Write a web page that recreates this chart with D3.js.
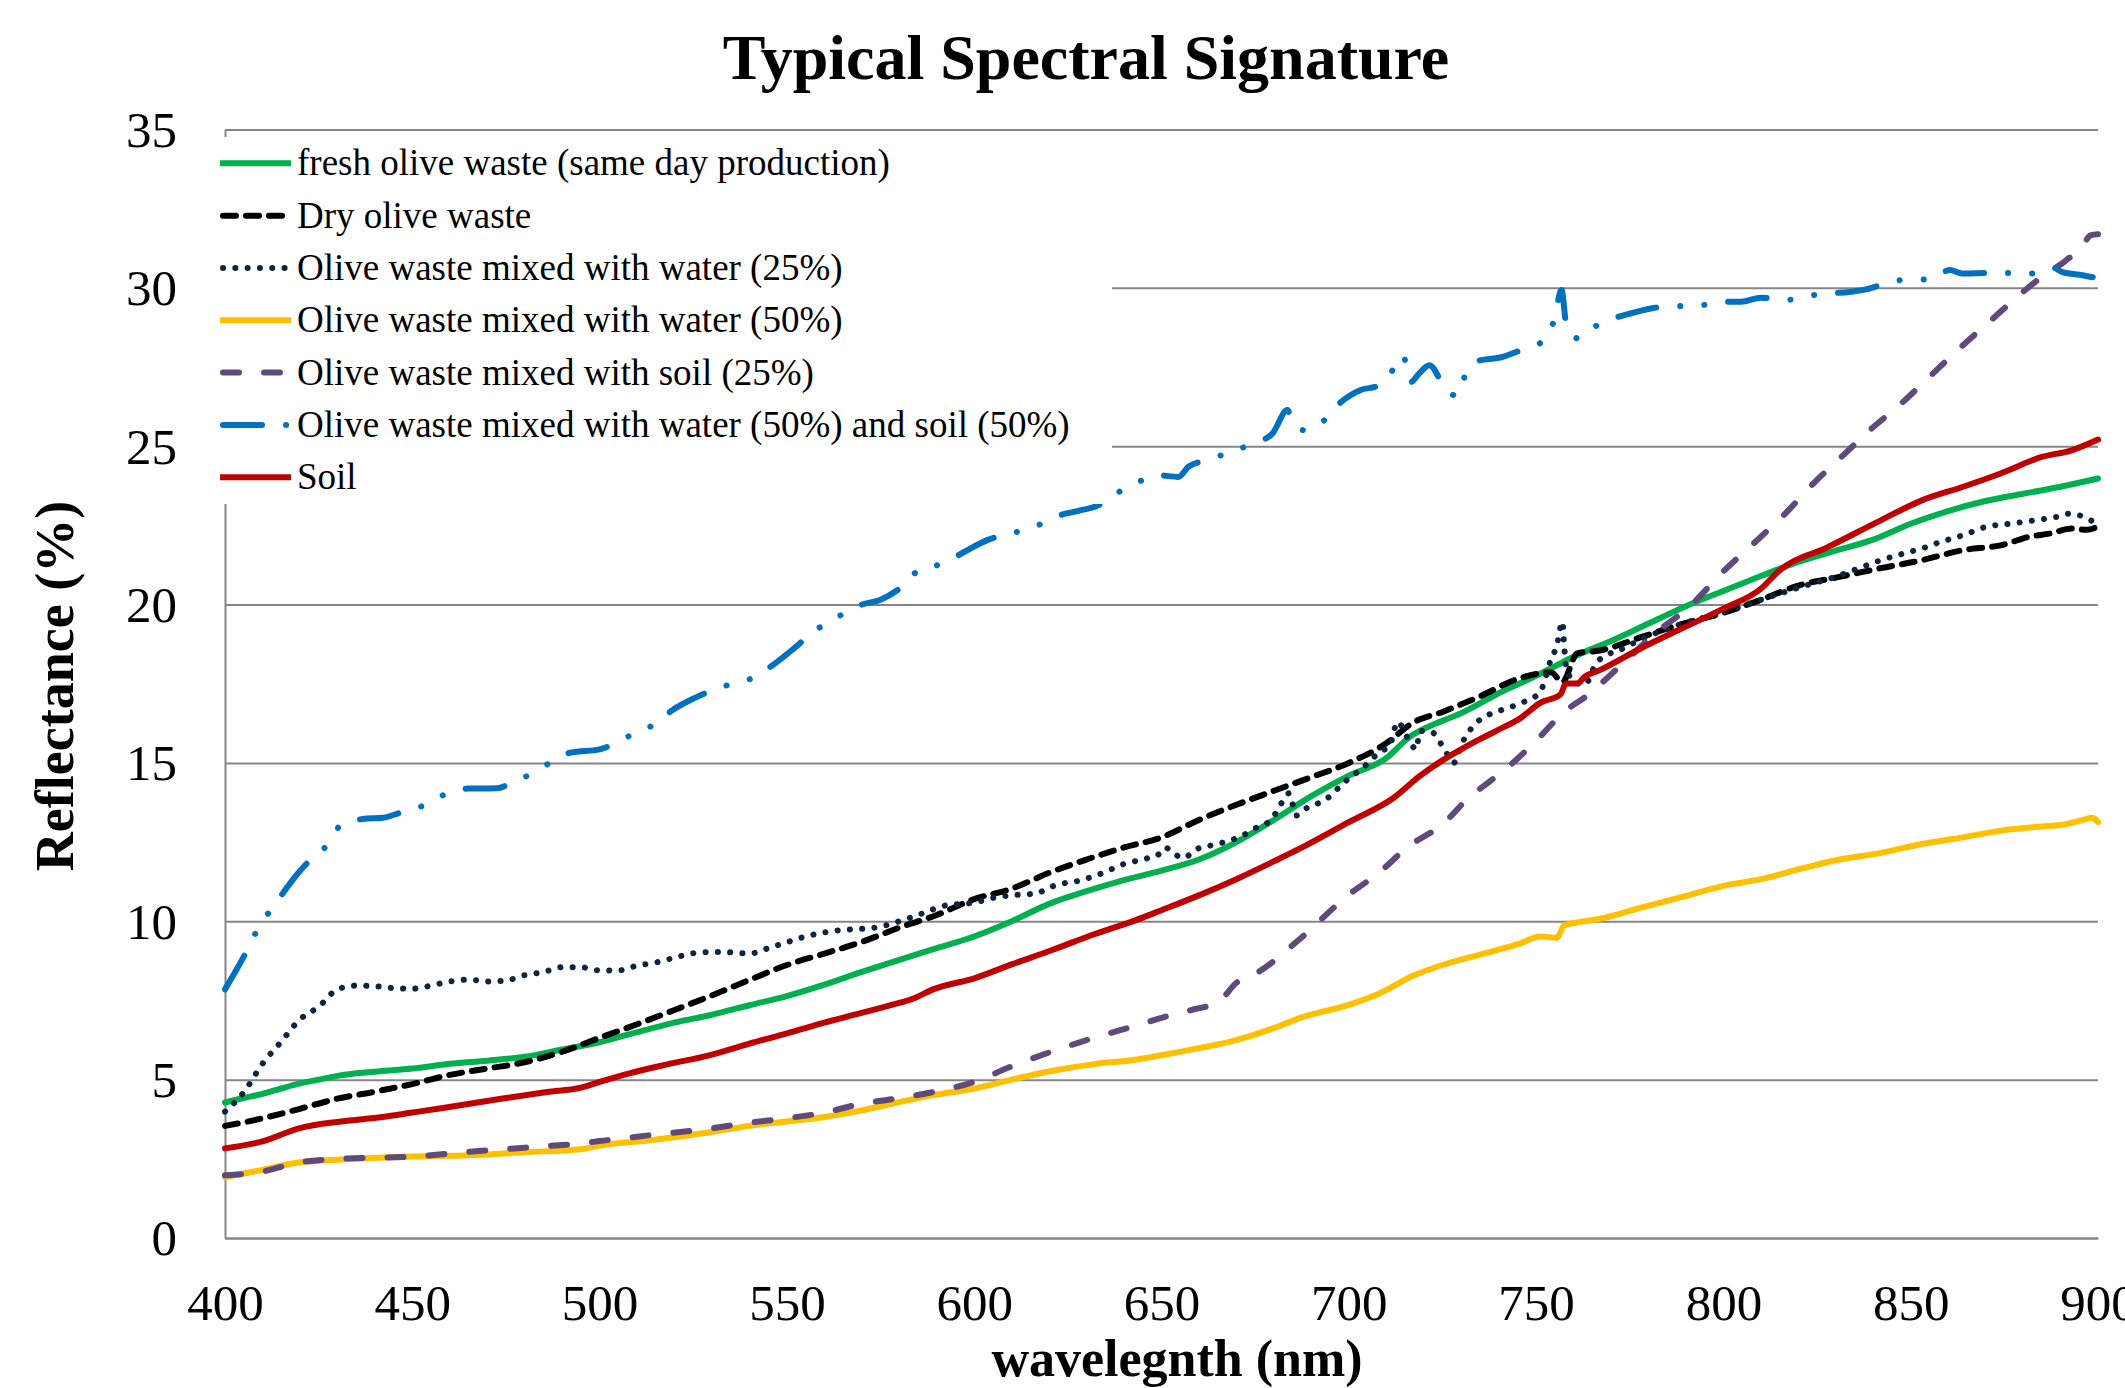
<!DOCTYPE html>
<html>
<head>
<meta charset="utf-8">
<script src="https://cdn.jsdelivr.net/npm/d3@7"></script>
<style>
    body { margin: 0; background: #fff; }
    svg text { font-family: "Liberation Serif", "Times New Roman", serif; fill: #000; }
</style>
</head>
<body>
<div id="wrapper"></div>
<script>
// tick values
const xTicks = [400, 450, 500, 550, 600, 650, 700, 750, 800, 850, 900];
const yTicks = [0, 5, 10, 15, 20, 25, 30, 35];

const seriesNames = [
    "fresh olive waste (same day production)",
    "Dry olive waste",
    "Olive waste mixed with water (25%)",
    "Olive waste mixed with water (50%)",
    "Olive waste mixed with soil (25%)",
    "Olive waste mixed with water (50%) and soil (50%)",
    "Soil"
];

// [wavelength nm, reflectance %]
const freshWaste = [[400,4.28],[405,4.42],[410,4.55],[415,4.72],[420,4.88],[425,5.0],[430,5.12],[440,5.25],[450,5.35],[460,5.5],[470,5.6],[480,5.72],[490,5.95],[500,6.18],[510,6.5],[520,6.8],[530,7.05],[540,7.35],[550,7.64],[560,8.0],[570,8.4],[580,8.78],[590,9.15],[600,9.52],[610,10.0],[620,10.55],[630,10.95],[640,11.3],[650,11.6],[660,11.95],[670,12.5],[680,13.2],[690,13.95],[700,14.6],[710,15.15],[716,15.8],[725,16.33],[730,16.57],[740,17.2],[750,17.75],[755,18.05],[760,18.35],[770,18.85],[780,19.4],[790,19.95],[800,20.43],[810,20.9],[820,21.35],[830,21.7],[840,22.05],[850,22.55],[860,22.95],[870,23.27],[880,23.5],[890,23.72],[900,23.98]];

const dryWaste = [[400,3.54],[405,3.65],[410,3.78],[420,4.08],[430,4.4],[440,4.62],[450,4.86],[460,5.15],[470,5.35],[480,5.55],[490,5.88],[500,6.32],[510,6.75],[520,7.2],[530,7.66],[540,8.15],[550,8.62],[560,8.98],[570,9.35],[580,9.8],[590,10.2],[600,10.7],[610,11.03],[620,11.53],[630,11.95],[640,12.33],[650,12.65],[660,13.2],[670,13.68],[680,14.12],[690,14.55],[700,15.0],[710,15.62],[717,16.26],[725,16.61],[735,17.1],[745,17.65],[754,17.86],[757,17.55],[761,18.46],[767,18.55],[778,18.97],[787,19.32],[800,19.74],[810,20.15],[820,20.6],[830,20.85],[842,21.15],[853,21.4],[864,21.72],[874,21.87],[882,22.15],[887,22.24],[893,22.4],[897,22.36],[900,22.47]];

const water25 = [[400,3.99],[405,4.6],[410,5.5],[415,6.2],[420,6.9],[425,7.3],[430,7.85],[435,7.97],[440,7.95],[445,7.89],[450,7.87],[455,7.97],[460,8.1],[465,8.16],[470,8.1],[475,8.13],[480,8.3],[485,8.4],[490,8.55],[495,8.55],[500,8.45],[505,8.45],[510,8.6],[515,8.7],[520,8.85],[525,8.99],[530,9.03],[535,9.02],[540,8.98],[545,9.15],[550,9.34],[555,9.52],[560,9.65],[565,9.73],[570,9.76],[575,9.83],[580,10.0],[586,10.24],[592,10.49],[600,10.59],[606,10.76],[612,10.84],[616,10.87],[622,11.15],[628,11.28],[634,11.51],[640,11.81],[646,11.98],[649,12.09],[651,12.33],[653,12.16],[656,12.0],[659,12.26],[665,12.44],[671,12.67],[676,13.0],[679,13.17],[681,13.51],[684,14.04],[686,13.34],[688,13.52],[694,13.86],[699,14.41],[704,14.87],[708,15.32],[711,15.57],[713,16.29],[716,15.73],[718,15.43],[719,16.01],[722,15.98],[726,15.33],[728,15.0],[730,15.57],[734,16.26],[737,16.5],[741,16.68],[746,16.89],[751,17.23],[754,18.28],[755.5,18.69],[757,19.46],[757.5,18.69],[758,18.07],[760,17.58],[763,17.47],[766,18.14],[769,18.42],[772,18.55],[778,18.9],[787,19.32],[800,19.76],[810,20.15],[821,20.57],[831,20.92],[836,21.14],[842,21.4],[848,21.61],[853,21.77],[858,21.98],[864,22.19],[870,22.45],[877,22.56],[883,22.66],[889,22.77],[892,22.87],[895,22.82],[898,22.66],[900,22.6]];

const water50 = [[400,1.92],[410,2.15],[420,2.39],[430,2.47],[450,2.57],[465,2.61],[480,2.71],[495,2.8],[500,2.92],[513,3.08],[529,3.33],[540,3.54],[550,3.68],[560,3.82],[570,4.03],[578,4.24],[589,4.51],[600,4.72],[610,5.0],[621,5.28],[632,5.49],[643,5.63],[650,5.77],[659,5.97],[670,6.25],[681,6.67],[687,6.95],[700,7.36],[708,7.71],[717,8.27],[725,8.62],[735,8.95],[746,9.31],[751,9.52],[755.5,9.48],[757.5,9.87],[762,9.98],[767,10.08],[778,10.43],[789,10.77],[800,11.12],[810,11.33],[821,11.67],[831,11.95],[842,12.16],[853,12.44],[864,12.65],[874,12.86],[885,12.99],[890,13.04],[896,13.2],[898.5,13.27],[900,13.13]];

const soil25 = [[400,1.98],[410,2.1],[420,2.39],[431,2.5],[450,2.57],[464,2.71],[480,2.85],[495,2.99],[500,3.06],[513,3.24],[529,3.45],[540,3.64],[550,3.78],[560,3.96],[570,4.24],[578,4.38],[589,4.61],[600,4.93],[610,5.42],[621,5.9],[632,6.32],[643,6.7],[650,6.95],[659,7.23],[665,7.43],[670,8.06],[676,8.41],[687,9.45],[700,10.84],[708,11.53],[716,12.37],[725,13.06],[732,13.9],[738,14.45],[742.5,14.87],[750,15.7],[757.5,16.61],[764,17.16],[772.5,18.07],[782,19.11],[791,19.94],[799.5,20.99],[810,22.14],[816.5,22.87],[824,23.82],[831.5,24.66],[839,25.5],[847.5,26.35],[855,27.19],[863.5,28.14],[871,28.93],[878.5,29.72],[885,30.35],[891.5,30.87],[896,31.35],[898,31.66],[900,31.69]];

const waterSoil = [[400,7.85],[405.8,9.06],[408.5,9.7],[412,10.33],[415.6,10.91],[418.8,11.42],[422.6,11.92],[427.3,12.41],[430.8,13.02],[436.8,13.23],[442.2,13.27],[447.1,13.44],[453.1,13.66],[458.6,14.0],[465.1,14.19],[472.7,14.2],[476,14.34],[481.3,14.63],[486.7,15.0],[492.4,15.33],[500,15.43],[503.3,15.57],[508.7,15.9],[514.6,16.22],[519.6,16.68],[525,17.03],[529.4,17.26],[534.8,17.48],[541,17.69],[546.5,18.11],[551.2,18.55],[555,18.93],[559.9,19.37],[565.6,19.74],[570,20.0],[575,20.15],[580,20.5],[585.9,21.14],[591.6,21.29],[597.3,21.66],[603.8,22.05],[610.4,22.26],[616.4,22.47],[622,22.79],[627.8,22.96],[633.3,23.14],[637.6,23.48],[643.4,23.85],[649.3,24.08],[654.5,24.03],[657.2,24.35],[662.1,24.56],[668.5,24.82],[674.3,25.08],[679.6,25.4],[683.6,26.14],[685,25.77],[688.3,25.5],[693.5,25.82],[697.5,26.35],[703,26.77],[707.9,26.91],[711.7,27.4],[714.4,27.87],[716.6,27.03],[718.8,27.3],[721.5,27.56],[725.3,26.93],[728.8,26.58],[731.3,27.3],[734.6,27.7],[740.4,27.8],[746.3,28.05],[752.2,28.35],[754.8,28.98],[756.8,29.93],[758.1,28.82],[761.3,28.4],[765.6,28.77],[769.3,28.98],[775.2,29.19],[781.7,29.37],[787.6,29.42],[794,29.45],[799.4,29.56],[804.7,29.56],[810.1,29.69],[816.5,29.61],[821.3,29.72],[827.2,29.82],[833.7,29.87],[838,29.95],[843.9,30.16],[848.7,30.26],[854.6,30.26],[860.5,30.56],[863.7,30.45],[870.7,30.47],[877.1,30.47],[882.5,30.45],[885.2,30.56],[887.9,30.64],[890.5,30.5],[895.9,30.4],[900,30.3]];

const soil = [[400,2.83],[410,3.05],[420,3.47],[431,3.68],[442,3.82],[450,3.96],[459,4.12],[475,4.42],[486,4.61],[495,4.75],[500,4.93],[508,5.2],[518,5.48],[529,5.76],[540,6.14],[550,6.46],[560,6.8],[568,7.05],[578,7.36],[584,7.57],[589,7.85],[600,8.2],[610,8.64],[621,9.1],[632,9.59],[643,10.03],[650,10.35],[659,10.77],[670,11.33],[681,11.95],[687,12.3],[700,13.13],[712,13.9],[719,14.59],[725,15.08],[730,15.43],[735,15.75],[740,16.05],[746,16.43],[751,16.89],[756.5,17.16],[758,17.51],[761,17.51],[763,17.72],[767,17.93],[778,18.62],[789,19.25],[800,19.87],[810,20.5],[815,21.08],[828,21.82],[842,22.66],[853,23.29],[864,23.72],[874,24.14],[885,24.66],[893,24.87],[900,25.21]];

const allSeries = [freshWaste, dryWaste, water25, water50, soil25, waterSoil, soil];

// styling per series (kept apart from the values)
const seriesColors = ["#00B050", "#000000", "#0F243E", "#FFC000", "#604A7B", "#0070C0", "#C00000"];
const seriesDash = [null, "13,10", "0.1,12.2", null, "16,25", "39,24,0.1,24,0.1,24", null];

let wSvg = 2125;
let hSvg = 1388;
let plotLeft = 225;
let plotRight = 2098;
let plotTop = 129.5;
let plotBottom = 1238;
let lineWidth = 6;

let svg = d3.select("#wrapper")
    .append("svg")
    .attr("width", wSvg)
    .attr("height", hSvg);

let xScale = d3.scaleLinear().domain([400, 900]).range([plotLeft, plotRight]);
let yScale = d3.scaleLinear().domain([0, 35]).range([plotBottom, plotTop]);

// horizontal gridlines + y labels
let yAxis = svg.append("g")
    .attr("transform", `translate(${plotLeft},0)`)
    .call(d3.axisLeft(yScale)
        .tickValues(yTicks)
        .tickSize(-(plotRight - plotLeft))
        .tickSizeOuter(0)
        .tickPadding(48));

yAxis.selectAll(".tick line").attr("stroke", "#868686").attr("stroke-width", 2);
yAxis.select(".domain").attr("stroke", "#868686").attr("stroke-width", 2);
yAxis.selectAll("text")
    .attr("font-size", 51)
    .attr("dy", "0.33em");

// x axis
let xAxis = svg.append("g")
    .attr("transform", `translate(0,${plotBottom})`)
    .call(d3.axisBottom(xScale)
        .tickValues(xTicks)
        .tickSize(0)
        .tickSizeOuter(0));

xAxis.select(".domain").attr("stroke", "#868686").attr("stroke-width", 2);
xAxis.selectAll("text")
    .attr("font-size", 51)
    .attr("y", 82)
    .attr("dy", null);

// series
let line = d3.line()
    .x(d => xScale(d[0]))
    .y(d => yScale(d[1]))
    .curve(d3.curveMonotoneX);

allSeries.forEach((data, i) => {
    svg.append("path")
        .datum(data)
        .attr("d", line)
        .attr("fill", "none")
        .attr("stroke", seriesColors[i])
        .attr("stroke-width", lineWidth)
        .attr("stroke-linecap", "round")
        .attr("stroke-linejoin", "round")
        .attr("stroke-dasharray", seriesDash[i]);
});

// legend sits on top of the plot with a white box
svg.append("rect")
    .attr("x", 200)
    .attr("y", 137)
    .attr("width", 1112 - 200)
    .attr("height", 504 - 137)
    .attr("fill", "#fff");

let legend = svg.append("g");
seriesNames.forEach((name, i) => {
    let y = 163.3 + i * 52.33;
    let dashed = seriesDash[i] !== null;
    legend.append("line")
        .attr("x1", dashed ? 223 : 220)
        .attr("x2", dashed ? 288 : 291)
        .attr("y1", y)
        .attr("y2", y)
        .attr("stroke", seriesColors[i])
        .attr("stroke-width", lineWidth)
        .attr("stroke-linecap", dashed ? "round" : "butt")
        .attr("stroke-dasharray", seriesDash[i]);
    legend.append("text")
        .attr("x", 297)
        .attr("y", y + 12)
        .attr("font-size", 37)
        .text(name);
});

// titles
svg.append("text")
    .attr("x", 1086)
    .attr("y", 79)
    .attr("text-anchor", "middle")
    .attr("font-size", 64)
    .attr("font-weight", "bold")
    .text("Typical Spectral Signature");

svg.append("text")
    .attr("x", 1177)
    .attr("y", 1376)
    .attr("text-anchor", "middle")
    .attr("font-size", 52)
    .attr("font-weight", "bold")
    .text("wavelegnth (nm)");

svg.append("text")
    .attr("transform", "translate(73,686) rotate(-90)")
    .attr("text-anchor", "middle")
    .attr("font-size", 54)
    .attr("font-weight", "bold")
    .text("Reflectance (%)");
</script>
</body>
</html>
